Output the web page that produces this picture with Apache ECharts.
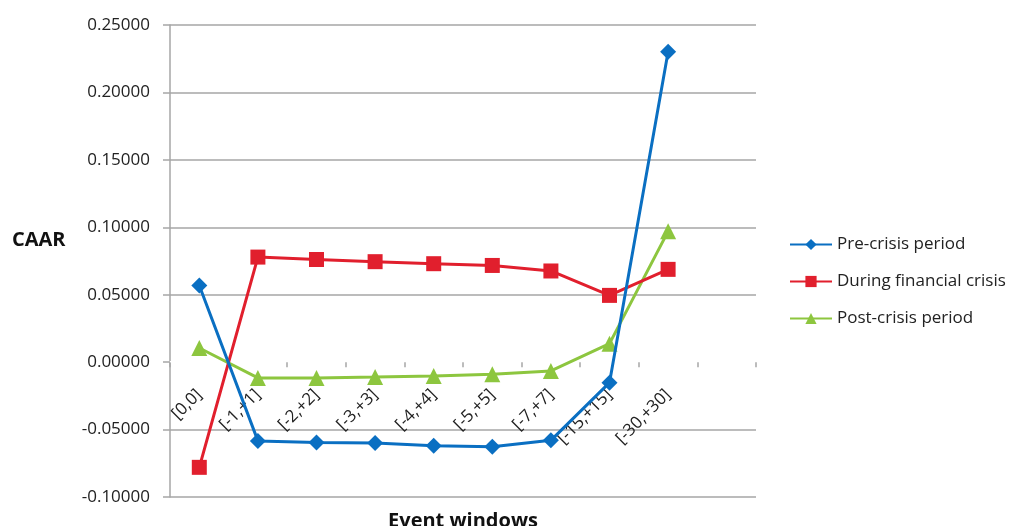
<!DOCTYPE html>
<html><head><meta charset="utf-8">
<script src="https://cdn.jsdelivr.net/npm/echarts@6/dist/echarts.min.js"></script>
<style>html,body{margin:0;padding:0;background:#fff}#c{width:1009px;height:526px}</style>
</head><body><div id="c"></div>
<script>
const categories = ['[0,0]','[-1,+1]','[-2,+2]','[-3,+3]','[-4,+4]','[-5,+5]','[-7,+7]','[-15,+15]','[-30,+30]',''];
const preCrisis = [0.0569,-0.0584,-0.0596,-0.0600,-0.0620,-0.0628,-0.0580,-0.0152,0.2302];
const duringCrisis = [-0.0780,0.0779,0.0761,0.0745,0.0730,0.0717,0.0676,0.0495,0.0688];
const postCrisis = [0.0105,-0.0117,-0.0117,-0.0110,-0.0102,-0.0090,-0.0065,0.0137,0.0970];
const yTicks = {min:-0.10, max:0.25, interval:0.05};

const font = 'Open Sans, Liberation Sans, sans-serif';
const grid = '#a6a6a6';
const G = {left:170,right:253,top:25,bottom:29};
const plotH = 526 - G.top - G.bottom;
const zeroOffset = -plotH * (0 - yTicks.min) / (yTicks.max - yTicks.min);
const chart = echarts.init(document.getElementById('c'));
chart.setOption({
  animation:false,
  title:{text:'CAAR',left:12,top:230,padding:0,textStyle:{fontFamily:font,fontSize:20,fontWeight:'bold',color:'#111'}},
  grid:Object.assign({containLabel:false,outerBoundsMode:'none'},G),
  legend:{
    orient:'vertical', left:789, top:236, padding:0, itemWidth:42, itemHeight:14, itemGap:20,
    textStyle:{fontFamily:font,fontSize:17,color:'#222'},
    data:['Pre-crisis period','During financial crisis','Post-crisis period']
  },
  xAxis:{
    type:'category', data:categories, boundaryGap:true, offset:zeroOffset,
    name:'Event windows', nameLocation:'middle', nameGap:149,
    nameTextStyle:{fontFamily:font,fontSize:20,fontWeight:'bold',color:'#111'},
    axisLine:{show:true,onZero:false,lineStyle:{color:'#ffffff',width:2}},
    axisTick:{show:true,length:5,lineStyle:{color:grid,width:1.5}},
    axisLabel:{rotate:45,fontFamily:font,fontSize:17,color:'#222',margin:30,interval:0},
    splitLine:{show:false}
  },
  yAxis:{
    type:'value', min:yTicks.min, max:yTicks.max, interval:yTicks.interval,
    axisLine:{show:true,lineStyle:{color:grid,width:1.5}},
    axisTick:{show:true,length:7,lineStyle:{color:grid,width:1.5}},
    axisLabel:{fontFamily:font,fontSize:17,color:'#222',margin:20,formatter:v=>v.toFixed(5)},
    splitLine:{show:true,lineStyle:{color:[grid,grid,'#ffffff',grid,grid,grid,grid,grid],width:1.5}}
  },
  series:[
    {name:'Pre-crisis period',type:'line',data:preCrisis,symbol:'diamond',symbolSize:16,
     lineStyle:{color:'#0a6fc2',width:3},itemStyle:{color:'#0a6fc2'},z:3},
    {name:'During financial crisis',type:'line',data:duringCrisis,symbol:'rect',symbolSize:15,
     lineStyle:{color:'#e11f2d',width:3},itemStyle:{color:'#e11f2d'},z:2},
    {name:'Post-crisis period',type:'line',data:postCrisis,symbol:'triangle',symbolSize:16,
     lineStyle:{color:'#8dc63f',width:3},itemStyle:{color:'#8dc63f'},z:1}
  ]
});
</script></body></html>
